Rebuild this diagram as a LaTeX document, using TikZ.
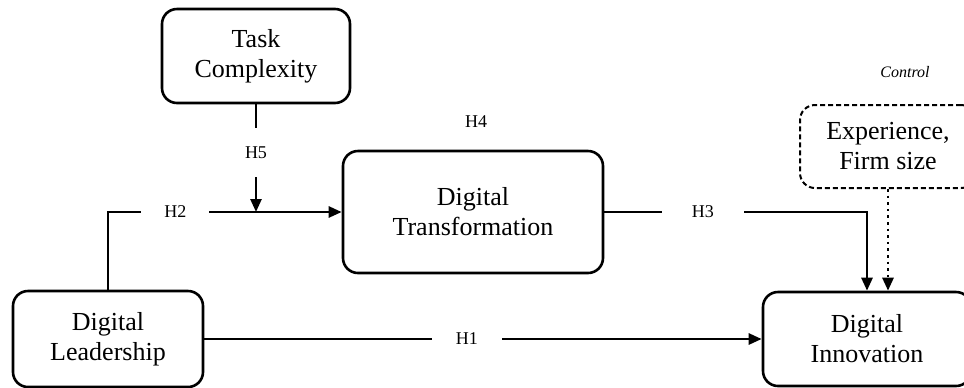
\documentclass[tikz,border=0pt]{standalone}
\usepackage{fontspec}
\setmainfont{Liberation Serif}
\usetikzlibrary{arrows.meta}
\begin{document}
\begin{tikzpicture}[x=0.5pt,y=-0.5pt,
		box/.style={draw,line width=1.3pt,rounded corners=7.5pt,align=center,font=\fontsize{13}{15}\selectfont},
		arr/.style={line width=1.3pt,-{Triangle[length=6.5pt,width=5.5pt]}},
		gap/.style={fill=white,inner sep=0pt,minimum height=10pt,font=\fontsize{9}{10}\selectfont}]
		\useasboundingbox (0,0) rectangle (964,387);
		\node[box,minimum width=94pt,minimum height=47pt] (task) at (256,56) {Task\\Complexity};
		\node[box,minimum width=130pt,minimum height=61pt] (trans) at (473,212) {Digital\\Transformation};
		\node[box,minimum width=95pt,minimum height=48pt] (lead) at (108,339) {Digital\\Leadership};
		\node[box,minimum width=104pt,minimum height=47pt] (innov) at (867,339) {Digital\\Innovation};
		\node[box,dash pattern=on 2.5pt off 1.5pt,line width=1pt,minimum width=88pt,minimum height=41.5pt] (ctrl) at (888,146.5) {Experience,\\Firm size};
		\node[font=\fontsize{8}{9}\selectfont\itshape] (ctrltxt) at (905,72) {Control};
		\node[font=\fontsize{9}{10}\selectfont] (h4) at (476,122) {H4};
		\coordinate (mod) at (256,212);
		% paths
		\draw[arr] (lead.north) |- node[gap,pos=0.644,minimum width=34pt] {H2} (trans.west);
		\draw[arr] (task.south) -- node[gap,pos=0.45,minimum height=24.5pt] {H5} (mod);
		\draw[arr] (trans.east) -| node[gap,pos=0.1875,minimum width=41pt] {H3} (innov.north);
		\draw[arr] (lead.east) -- node[gap,pos=0.471,minimum width=35pt] {H1} (innov.west);
		\draw[arr,dotted] (ctrl.south) -- (ctrl.south |- innov.north);
	\end{tikzpicture}
\end{document}
